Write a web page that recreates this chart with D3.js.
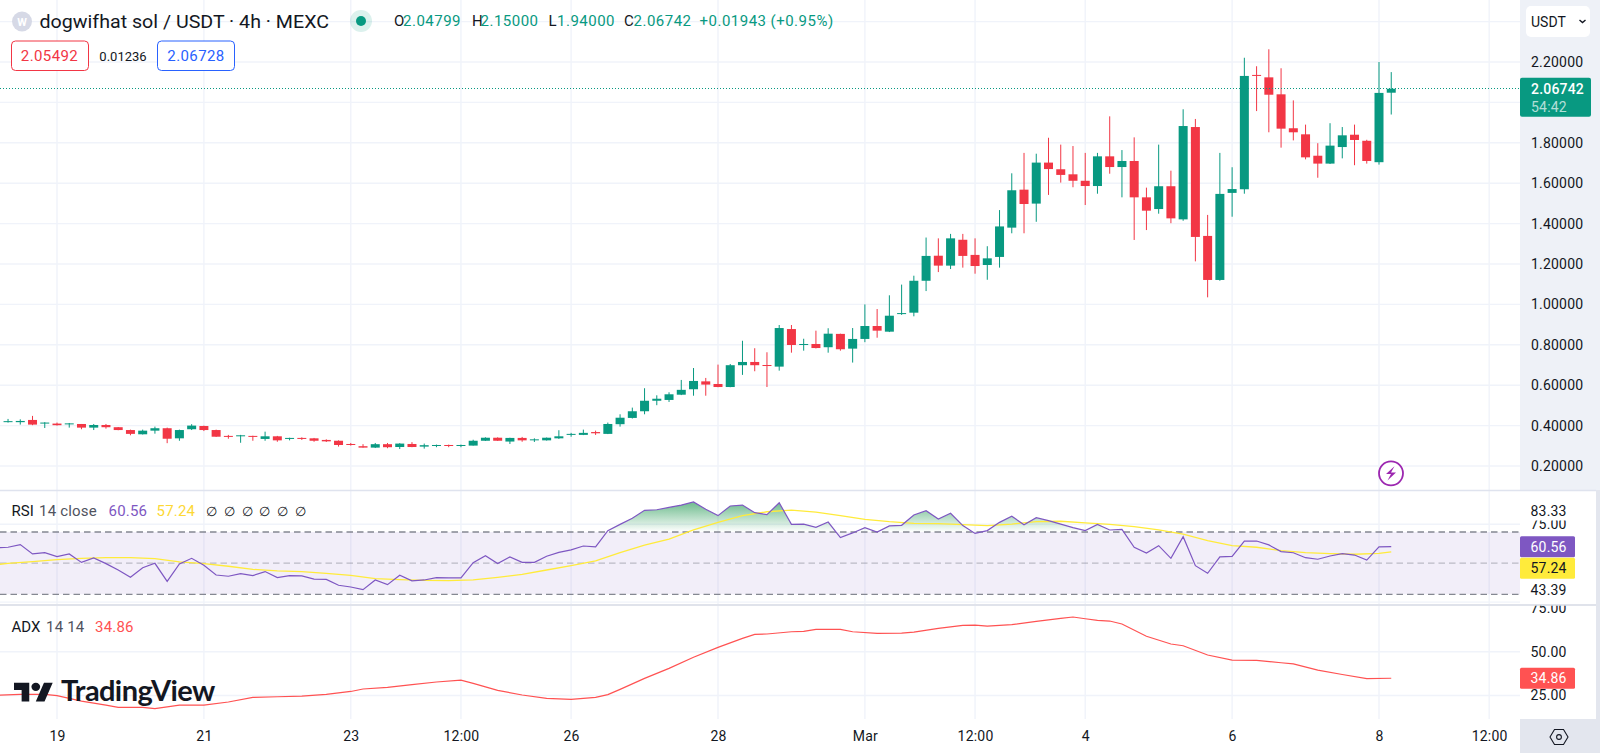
<!DOCTYPE html>
<html>
<head>
<meta charset="utf-8">
<script src="https://cdn.jsdelivr.net/npm/d3@7"></script>
<style>
html,body{margin:0;padding:0;background:#fff;overflow:hidden}
svg{display:block}
text{font-family:Roboto,"Noto Sans",sans-serif;fill:#131722}
</style>
</head>
<body>
<svg id="c" width="1600" height="753"></svg>
<script>
const opens = [
.418,.417,.428,.410,.410,.407,.408,.390,.403,.392,
.378,.357,.375,.387,.337,.382,.398,.378,.349,.347,
.349,.334,.347,.334,.339,.337,.329,.325,.309,.298,
.291,.308,.294,.309,.296,.301,.304,.301,.301,.325,
.340,.321,.339,.329,.327,.337,.354,.354,.368,.359,
.407,.438,.471,.523,.527,.553,.580,.619,.606,.591,
.699,.715,.700,.692,.878,.799,.804,.788,.854,.781,
.829,.893,.865,.953,.959,1.117,1.241,1.192,1.320,1.245,
1.195,1.235,1.380,1.568,1.499,1.702,1.669,1.644,1.612,1.586,
1.733,1.680,1.710,1.530,1.472,1.585,1.421,1.878,1.339,1.121,
1.552,1.570,2.136,2.124,2.040,1.872,1.842,1.736,1.697,1.779,
1.840,1.810,1.704,2.04799];
const closes = [
.422,.423,.405,.415,.402,.411,.390,.403,.392,.378,
.359,.375,.387,.335,.378,.400,.378,.345,.344,.352,
.345,.347,.327,.339,.334,.325,.322,.304,.304,.291,
.308,.293,.311,.294,.303,.304,.301,.304,.325,.340,
.325,.339,.327,.332,.340,.347,.359,.364,.362,.408,
.439,.471,.523,.533,.555,.577,.621,.603,.591,.699,
.715,.699,.695,.883,.799,.804,.784,.855,.778,.829,
.893,.870,.944,.957,1.117,1.240,1.192,1.327,1.240,1.190,
1.228,1.386,1.565,1.497,1.702,1.670,1.641,1.612,1.586,1.733,
1.680,1.710,1.530,1.464,1.585,1.426,1.883,1.334,1.121,1.547,
1.571,2.131,2.132,2.038,1.870,1.852,1.728,1.697,1.786,1.837,
1.814,1.710,2.047,2.06742];
const highs = [
.433,.431,.448,.417,.415,.413,.408,.408,.408,.393,
.380,.380,.395,.390,.380,.407,.400,.380,.354,.354,
.350,.370,.349,.340,.342,.339,.332,.327,.314,.308,
.314,.314,.313,.318,.311,.306,.306,.306,.330,.342,
.342,.340,.344,.337,.341,.377,.364,.380,.375,.415,
.456,.489,.585,.550,.565,.626,.685,.636,.702,.705,
.820,.783,.763,.898,.898,.830,.870,.882,.855,.883,
1.000,.977,1.045,1.098,1.142,1.331,1.327,1.349,1.349,1.327,
1.288,1.467,1.649,1.750,1.746,1.825,1.791,1.784,1.750,1.750,
1.931,1.764,1.827,1.578,1.791,1.662,1.966,1.918,1.443,1.750,
1.679,2.221,2.179,2.263,2.169,2.010,1.890,1.798,1.897,1.878,
1.890,1.815,2.200,2.15000];
const lows = [
.415,.405,.402,.388,.400,.390,.382,.378,.385,.377,
.352,.356,.360,.313,.325,.378,.373,.344,.335,.315,
.325,.325,.320,.327,.329,.320,.319,.296,.301,.291,
.289,.288,.284,.293,.286,.293,.293,.293,.301,.324,
.324,.309,.320,.319,.326,.334,.345,.353,.354,.358,
.395,.435,.456,.501,.517,.551,.548,.548,.590,.590,
.651,.669,.591,.672,.761,.771,.782,.761,.771,.712,
.813,.835,.863,.948,.941,1.066,1.160,1.175,1.182,1.152,
1.122,1.182,1.352,1.352,1.409,1.542,1.603,1.580,1.492,1.548,
1.647,1.530,1.319,1.368,1.449,1.402,1.414,1.213,1.035,1.117,
1.434,1.548,1.957,1.852,1.776,1.812,1.718,1.627,1.695,1.723,
1.689,1.697,1.692,1.94000];
// bar number of each candle: bar 0 is the "19" session
const firstBar = -4;

// RSI from bar -5 (just off the left edge) to bar 109
const rsiValues = [
59.9,60.2,61.9,55.9,56.7,54.2,55.9,50.5,53.3,49.7,45.6,40.9,47.1,49.9,38.3,49.5,53.1,48.6,42.4,41.6,
43.3,42.0,44.6,40.7,42.0,41.8,39.8,39.6,35.8,34.7,33.0,39.2,36.2,42.2,38.6,39.2,40.7,40.5,40.5,50.3,
54.8,49.7,54.0,50.5,50.5,54.4,56.9,58.5,61.0,60.4,70.9,74.9,78.8,83.9,84.3,85.8,87.3,89.3,84.6,80.5,
86.7,87.3,82.4,81.1,88.8,74.9,75.1,73.0,76.4,66.4,69.4,72.8,70.0,73.9,74.3,80.9,83.7,78.3,82.0,74.1,
69.1,70.9,76.2,80.1,74.7,79.2,77.3,75.1,72.8,70.9,74.9,71.3,71.7,60.2,56.5,61.2,53.1,67.0,48.4,43.5,
54.0,54.4,64.2,64.2,61.7,57.4,56.7,53.5,52.5,54.6,56.1,55.2,52.0,60.4,60.56];
const rsiFirstBar = -5;

const rsiMaBars = [-5,-4,-2,0,2,4,6,8,10,12,14,16,18,20,22,24,26,28,30,32,34,36,38,40,42,44,46,48,50,52,54,56,58,60,62,64,66,68,70,72,74,76,78,80,82,84,86,88,90,92,94,96,98,100,102,104,106,108,109];
const rsiMaValues = [49.0,49.9,50.96,52.2,53.1,53.5,53.5,52.9,50.8,49.7,48.0,46.0,45.0,44.5,43.5,42.2,40.1,39.4,39.0,38.8,39.2,40.9,42.8,45.6,48.4,51.4,56.7,61.5,65.5,71.3,76.2,80.5,83.0,84.1,82.8,80.5,78.1,76.6,75.6,75.4,74.7,74.1,75.1,76.6,76.9,75.8,74.9,73.4,71.3,68.7,64.4,61.2,60.2,58.0,56.7,56.1,55.7,56.3,57.24];

const adxBars = [-5,-3,-1,0,2,4,5,6,7,8,10,12,14,16,18,20,22,24,25,27,29,31,33,34,36,38,40,42,44,45,46,48,50,52,54,56,57,58,60,61,62,64,65,67,69,70,72,74,75,76,78,80,82,83,84,85,86,87,89,91,92,94,96,98,100,101,103,105,107,109];
const adxValues = [25.07,25.64,25.64,24.9,21.8,19.5,18.2,18.2,18.2,17.5,19.5,19.5,21.3,23.9,24.3,24.7,25.6,27.3,28.7,29.6,31.2,32.7,33.8,31.9,27.9,25.3,23.4,22.8,23.9,25.5,28.5,34.8,40.5,46.8,52.5,57.6,59.9,60.1,61.4,61.6,62.7,62.7,61.4,60.5,60.6,61.2,63.3,65.0,65.2,64.6,65.4,67.3,69.0,69.8,68.8,67.9,67.5,65.8,58.8,54.4,53.4,48.1,45.2,45.0,43.7,43.0,39.5,37.0,34.6,34.86];

const timeTickBars = [0,12,24,33,42,54,66,75,84,96,108,117];
const timeTickLabels = ["19","21","23","12:00","26","28","Mar","12:00","4","6","8","12:00"];
const priceTicks = [0.2,0.4,0.6,0.8,1.0,1.2,1.4,1.6,1.8,2.2];
const priceGrid = [0.2,0.4,0.6,0.8,1.0,1.2,1.4,1.6,1.8,2.0,2.2,2.4];
const rsiTickValues = [83.33,75,32.5];
const rsiTickLabels = ["83.33","75.00","43.39"];
const rsiGrid = [75,25];
const rsiLevels = [70,50,30];
const adxTicks = [75,50,25];
const lastRsi = 60.56, lastRsiMa = 57.24, lastAdx = 34.86, lastClose = 2.06742;

const GREEN="#089981", RED="#F23645", PURPLE="#7E57C2", YELLOW="#FFEB3B", ADXRED="#FF5252", GRID="#F0F3FA", TEXT="#131722";

const svg=d3.select("#c");
const defs=svg.append("defs");
const W=1600, AX=1520;

const x=d3.scaleLinear().domain([0,108]).range([57,1379]);
const y=d3.scaleLinear().domain([0.2,2.2]).range([466,62]);
const yR=d3.scaleLinear().domain([30,70]).range([594.3,532]);
const yA=d3.scaleLinear().domain([25,50]).range([695.5,651.7]);

// backgrounds
svg.append("rect").attr("x",AX).attr("y",0).attr("width",W-AX).attr("height",490).attr("fill","#EEF1F7");
svg.append("rect").attr("x",AX).attr("y",719).attr("width",W-AX).attr("height",34).attr("fill","#E3E6EE");
svg.append("rect").attr("x",1596).attr("y",490).attr("width",4).attr("height",263).attr("fill","#E3E6EE");

// clips
defs.append("clipPath").attr("id","plot").append("rect").attr("x",0).attr("y",0).attr("width",AX).attr("height",719);
defs.append("clipPath").attr("id","adxAxis").append("rect").attr("x",AX).attr("y",605.8).attr("width",80).attr("height",113);

// grid
const grid=svg.append("g").attr("stroke",GRID).attr("stroke-width",1.4);
grid.selectAll("line.v").data(timeTickBars).join("line").attr("x1",d=>x(d)).attr("x2",d=>x(d)).attr("y1",0).attr("y2",719);
grid.selectAll("line.p").data(priceGrid).join("line").attr("class","p").attr("x1",0).attr("x2",AX).attr("y1",d=>y(d)).attr("y2",d=>y(d));
grid.selectAll("line.r").data(rsiGrid).join("line").attr("class","r").attr("x1",0).attr("x2",AX).attr("y1",d=>yR(d)).attr("y2",d=>yR(d));
grid.selectAll("line.a").data([50,25]).join("line").attr("class","a").attr("x1",0).attr("x2",AX).attr("y1",d=>yA(d)).attr("y2",d=>yA(d));

// separators
svg.append("line").attr("x1",0).attr("x2",1596).attr("y1",490.5).attr("y2",490.5).attr("stroke","#DFE3EE").attr("stroke-width",1.5);
svg.append("line").attr("x1",0).attr("x2",1596).attr("y1",605).attr("y2",605).attr("stroke","#E0E3EB").attr("stroke-width",2);

// RSI band
svg.append("rect").attr("x",0).attr("width",AX).attr("y",yR(70)).attr("height",yR(30)-yR(70)).attr("fill",PURPLE).attr("fill-opacity",0.1);

// RSI overbought fill
const rsiData=rsiValues.map((v,i)=>({b:i+rsiFirstBar,v}));
const grad=defs.append("linearGradient").attr("id","ob").attr("gradientUnits","userSpaceOnUse").attr("x1",0).attr("x2",0).attr("y1",yR(88)).attr("y2",yR(70));
grad.append("stop").attr("offset",0).attr("stop-color","#2E9E5B").attr("stop-opacity",0.65);
grad.append("stop").attr("offset",1).attr("stop-color","#2E9E5B").attr("stop-opacity",0);
defs.append("clipPath").attr("id","above70").append("rect").attr("x",0).attr("y",491).attr("width",AX).attr("height",yR(70)-491);
svg.append("path").datum(rsiData)
  .attr("clip-path","url(#above70)")
  .attr("d",d3.area().x(d=>x(d.b)).y0(yR(70)).y1(d=>yR(d.v)))
  .attr("fill","url(#ob)");

// RSI levels
const lv=svg.append("g");
lv.selectAll("line").data(rsiLevels).join("line")
  .attr("x1",0).attr("x2",AX).attr("y1",d=>yR(d)).attr("y2",d=>yR(d))
  .attr("stroke","#787B86").attr("stroke-opacity",d=>d===50?0.45:0.9)
  .attr("stroke-width",1.3).attr("stroke-dasharray","6.5 4");

const plot=svg.append("g").attr("clip-path","url(#plot)");

// RSI MA + RSI
plot.append("path").datum(rsiMaBars.map((b,i)=>({b,v:rsiMaValues[i]})))
  .attr("d",d3.line().x(d=>x(d.b)).y(d=>yR(d.v))).attr("fill","none").attr("stroke",YELLOW).attr("stroke-width",1.3);
plot.append("path").datum(rsiData)
  .attr("d",d3.line().x(d=>x(d.b)).y(d=>yR(d.v))).attr("fill","none").attr("stroke",PURPLE).attr("stroke-width",1.2);

// ADX
plot.append("path").datum(adxBars.map((b,i)=>({b,v:adxValues[i]})))
  .attr("d",d3.line().x(d=>x(d.b)).y(d=>yA(d.v))).attr("fill","none").attr("stroke",ADXRED).attr("stroke-width",1.2);

// last price line
const lastY=Math.round(y(lastClose))-0.5;
svg.append("line").attr("x1",0).attr("x2",AX).attr("y1",lastY).attr("y2",lastY)
  .attr("stroke",GREEN).attr("stroke-width",1).attr("stroke-dasharray","1 2");

// candles
const candles=opens.map((o,i)=>({b:i+firstBar,o,c:closes[i],h:highs[i],l:lows[i]}));
const cg=plot.append("g");
const col=d=>d.c>=d.o?GREEN:RED;
cg.selectAll("line").data(candles).join("line")
  .attr("x1",d=>x(d.b)).attr("x2",d=>x(d.b)).attr("y1",d=>y(d.h)).attr("y2",d=>y(d.l))
  .attr("stroke",col).attr("stroke-width",1);
cg.selectAll("rect").data(candles).join("rect")
  .attr("x",d=>x(d.b)-4.5).attr("width",9)
  .attr("y",d=>y(Math.max(d.o,d.c)))
  .attr("height",d=>Math.max(1,Math.abs(y(d.o)-y(d.c))))
  .attr("fill",col);

// logo
const logo=svg.append("g").attr("transform","translate(14,678.5) scale(1.09,1.04)").attr("fill",TEXT);
logo.append("path").attr("d","M14 22H7V11H0V4h14v18zM28 22h-8l7.5-18h8L28 22z");
logo.append("circle").attr("cx",20).attr("cy",8).attr("r",4);
svg.append("text").attr("x",61).attr("y",701).attr("font-size",29).attr("font-weight",700)
  .style("font-family","Lato,Roboto,sans-serif").attr("letter-spacing",-0.6).text("TradingView");

// price axis
const axisFont=14;
function styleAxis(g){
  g.select(".domain").remove();
  g.selectAll(".tick line").remove();
  g.selectAll("text").attr("fill",TEXT).style("fill",TEXT).attr("font-size",axisFont).style("font-family","Roboto,sans-serif").attr("letter-spacing",0.2);
}
svg.append("g").attr("transform","translate(1531,0)")
  .call(d3.axisRight(y).tickValues(priceTicks).tickFormat(d3.format(".5f")).tickSize(0).tickPadding(0))
  .call(styleAxis);

// RSI axis
const rsiAxisG=svg.append("g").attr("transform","translate(1530.5,0)");
rsiAxisG.append("g")
  .call(d3.axisRight(yR).tickValues(rsiTickValues.slice(1)).tickFormat((d,i)=>rsiTickLabels[i+1]).tickSize(0).tickPadding(0))
  .call(styleAxis);
svg.append("rect").attr("x",1525).attr("y",501).attr("width",50).attr("height",19.5).attr("fill","#fff");
svg.append("g").attr("transform","translate(1530.5,0)")
  .call(d3.axisRight(yR).tickValues(rsiTickValues.slice(0,1)).tickFormat(()=>rsiTickLabels[0]).tickSize(0).tickPadding(0))
  .call(styleAxis);

// ADX axis
svg.append("g").attr("clip-path","url(#adxAxis)").append("g").attr("transform","translate(1530.5,0)")
  .call(d3.axisRight(yA).tickValues(adxTicks).tickFormat(d3.format(".2f")).tickSize(0).tickPadding(0))
  .call(styleAxis);

// time axis
svg.append("g").attr("transform","translate(0,719)")
  .call(d3.axisBottom(x).tickValues(timeTickBars).tickFormat((d,i)=>timeTickLabels[i]).tickSize(0).tickPadding(12))
  .call(styleAxis);

// axis badges
function badge(yc,h,w,fill,txt,color){
  svg.append("rect").attr("x",AX).attr("y",yc-h/2).attr("width",w).attr("height",h).attr("rx",1.5).attr("fill",fill);
  svg.append("text").attr("x",1530.5).attr("y",yc).attr("dy","0.36em").attr("font-size",axisFont).attr("letter-spacing",0.2)
    .style("fill",color).text(txt);
}
badge(yR(lastRsi),21,55,PURPLE,d3.format(".2f")(lastRsi),"#fff");
badge(yR(lastRsi)+21.5,21,55,YELLOW,d3.format(".2f")(lastRsiMa),TEXT);
badge(yA(lastAdx),21,55,ADXRED,d3.format(".2f")(lastAdx),"#fff");

// last price label
svg.append("rect").attr("x",AX).attr("y",y(lastClose)-11).attr("width",71).attr("height",39).attr("rx",2).attr("fill",GREEN);
svg.append("text").attr("x",1531).attr("y",y(lastClose)).attr("dy","0.36em").attr("font-size",axisFont).attr("font-weight",500).attr("letter-spacing",0.2).style("fill","#fff").text(d3.format(".5f")(lastClose));
svg.append("text").attr("x",1531).attr("y",y(lastClose)+18).attr("dy","0.36em").attr("font-size",axisFont).attr("letter-spacing",0.2).style("fill","#fff").style("fill-opacity",0.7).text("54:42");

// currency button
svg.append("rect").attr("x",1526).attr("y",6).attr("width",64).attr("height",31).attr("rx",5).attr("fill","#fff");
svg.append("text").attr("x",1531).attr("y",26.5).attr("font-size",14).text("USDT");
svg.append("path").attr("d","M1579.5 20 l3 2.6 l3 -2.6").attr("fill","none").attr("stroke",TEXT).attr("stroke-width",1.4);

// settings icon
const gx=1559, gy=737;
svg.append("path").attr("fill","none").attr("stroke",TEXT).attr("stroke-width",1.1)
  .attr("d",`M${gx-9} ${gy} L${gx-4.5} ${gy-7.5} H${gx+4.5} L${gx+9} ${gy} L${gx+4.5} ${gy+7.5} H${gx-4.5} Z`);
svg.append("circle").attr("cx",gx).attr("cy",gy).attr("r",2.4).attr("fill","none").attr("stroke",TEXT).attr("stroke-width",1.1);

// lightning icon
svg.append("circle").attr("cx",1391).attr("cy",473.3).attr("r",12).attr("fill","#fff").attr("stroke","#9C27B0").attr("stroke-width",1.8);
svg.append("path").attr("fill","#9C27B0").attr("d","M1394.5 466.2 L1386 474 H1391 L1387.5 480.6 L1396 472.6 H1391 Z");

// top legend
svg.append("circle").attr("cx",22).attr("cy",21.5).attr("r",10).attr("fill","#D6D9E6");
svg.append("text").attr("x",22).attr("y",25.5).attr("text-anchor","middle").attr("font-size",11).attr("font-weight",700).style("fill","#fff").text("W");
svg.append("text").attr("x",39.5).attr("y",27.5).attr("font-size",19).attr("textLength",289.5).attr("lengthAdjust","spacingAndGlyphs").text("dogwifhat sol / USDT · 4h · MEXC");
svg.append("circle").attr("cx",361).attr("cy",21).attr("r",11).attr("fill",GREEN).attr("fill-opacity",0.14);
svg.append("circle").attr("cx",361).attr("cy",21).attr("r",5).attr("fill",GREEN);

const ohlc=[
  [394,"O",TEXT],[403,"2.04799",GREEN],[472,"H",TEXT],[480.5,"2.15000",GREEN],
  [548.5,"L",TEXT],[557,"1.94000",GREEN],[624,"C",TEXT],[633.5,"2.06742",GREEN],
  [699.5,"+0.01943",GREEN],[770.5,"(+0.95%)",GREEN]];
svg.append("g").selectAll("text").data(ohlc).join("text")
  .attr("x",d=>d[0]).attr("y",26).attr("font-size",15).attr("letter-spacing",0.5).text(d=>d[1]).style("fill",d=>d[2]);

// bid/ask boxes
svg.append("rect").attr("x",11.5).attr("y",41).attr("width",77).attr("height",29.5).attr("rx",4).attr("fill","#fff").attr("stroke",RED);
svg.append("text").attr("x",49.5).attr("y",61).attr("text-anchor","middle").attr("font-size",15).attr("letter-spacing",0.4).style("fill",RED).text("2.05492");
svg.append("text").attr("x",123).attr("y",60.5).attr("text-anchor","middle").attr("font-size",13).text("0.01236");
svg.append("rect").attr("x",157.5).attr("y",41).attr("width",77).attr("height",29.5).attr("rx",4).attr("fill","#fff").attr("stroke","#2962FF");
svg.append("text").attr("x",196).attr("y",61).attr("text-anchor","middle").attr("font-size",15).attr("letter-spacing",0.4).style("fill","#2962FF").text("2.06728");

// RSI legend
const lf=15;
svg.append("text").attr("x",11.5).attr("y",516).attr("font-size",lf).text("RSI");
svg.append("text").attr("x",39).attr("y",516).attr("font-size",lf).style("fill","#50535E").attr("letter-spacing",0.2).text("14 close");
svg.append("text").attr("x",108.5).attr("y",516).attr("font-size",lf).attr("letter-spacing",0.2).style("fill",PURPLE).text(d3.format(".2f")(lastRsi));
svg.append("text").attr("x",156.5).attr("y",516).attr("font-size",lf).attr("letter-spacing",0.2).style("fill","#FDD835").text(d3.format(".2f")(lastRsiMa));
svg.append("g").selectAll("text").data([205.5,223.5,241.5,259,277,295]).join("text")
  .attr("x",d=>d).attr("y",516).attr("font-size",13).style("fill",TEXT).text("∅");

// ADX legend
svg.append("text").attr("x",11.5).attr("y",632).attr("font-size",lf).text("ADX");
svg.append("text").attr("x",46).attr("y",632).attr("font-size",lf).attr("letter-spacing",0.2).style("fill","#50535E").text("14 14");
svg.append("text").attr("x",95).attr("y",632).attr("font-size",lf).attr("letter-spacing",0.2).style("fill",ADXRED).text(d3.format(".2f")(lastAdx));
</script>
</body>
</html>
